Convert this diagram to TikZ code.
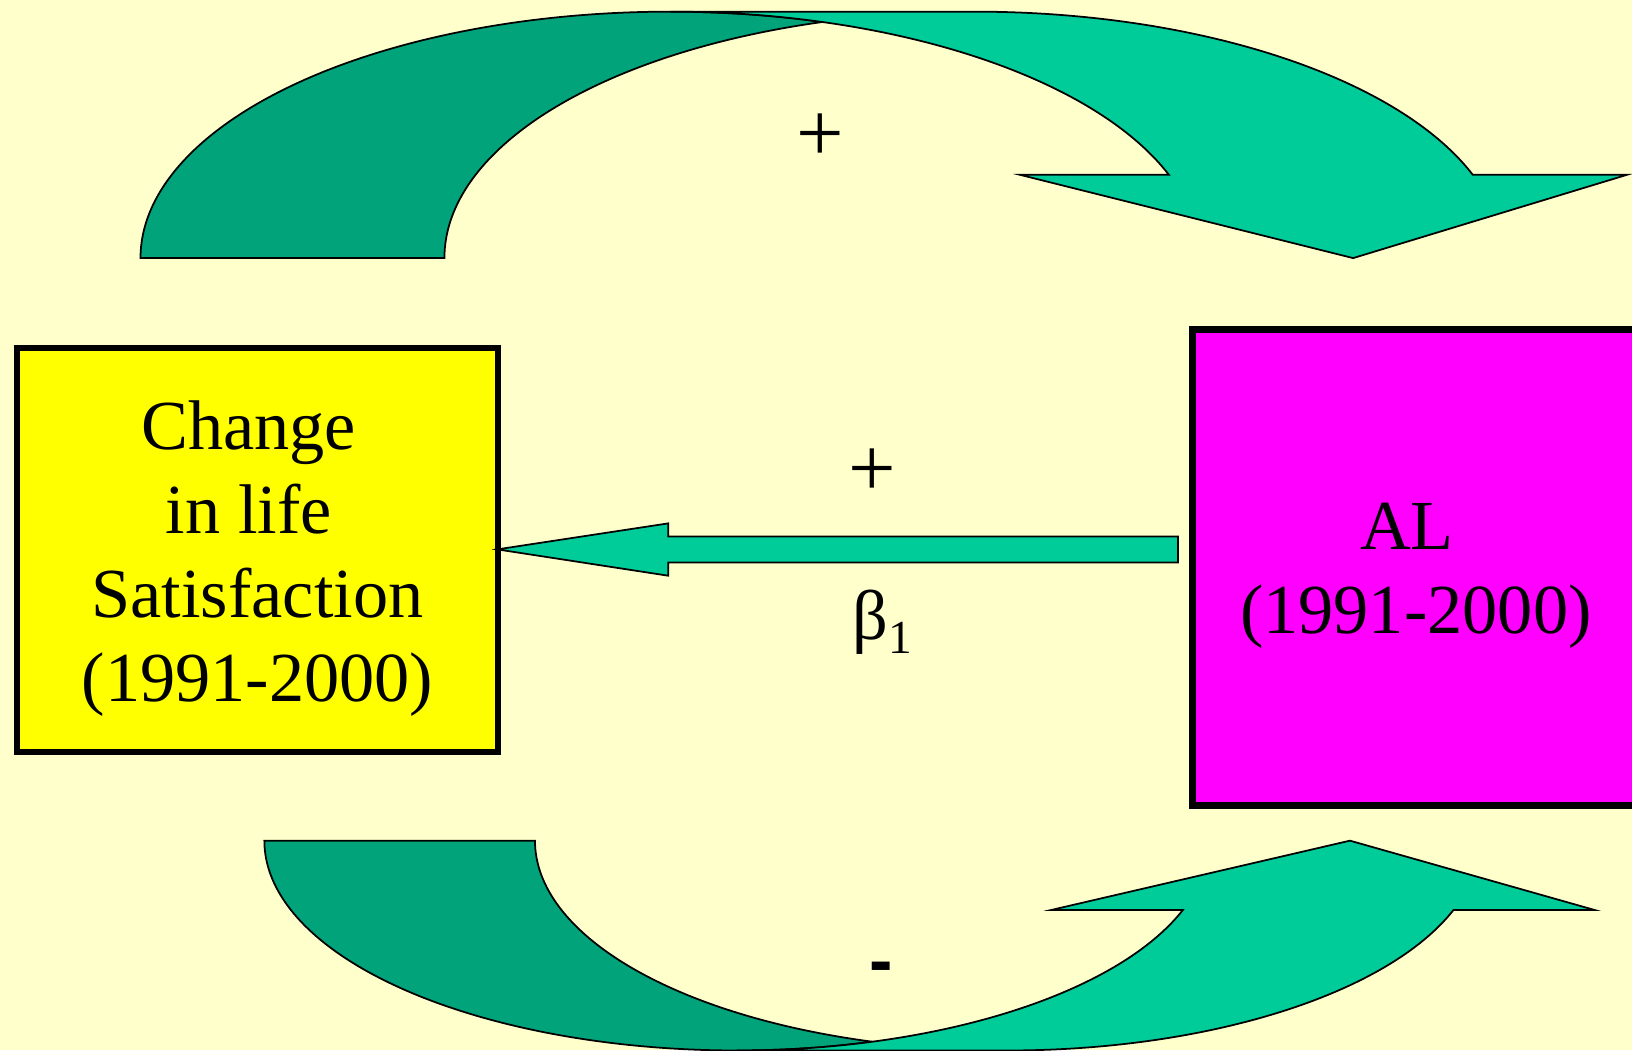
\documentclass[tikz,border=0pt]{standalone}
\usepackage{fontspec}
\setmainfont{Liberation Serif}
\newfontfamily\sansf{Liberation Sans}
\usetikzlibrary{calc,fit}
\definecolor{bgc}{HTML}{FFFFCC}
\definecolor{darkg}{HTML}{00A37A}
\definecolor{lightg}{HTML}{00CC99}
\definecolor{boxyellow}{HTML}{FFFF00}
\definecolor{boxmagenta}{HTML}{FF00FF}
\begin{document}
\begin{tikzpicture}[x=0.0104082cm, y=0.0104082cm,
  outl/.style={draw=black, line width=0.5pt, line join=miter},
  varbox/.style={draw=black, line width=1.9pt, inner sep=0pt},
  boxtext/.style={inner sep=0pt, font=\fontsize{20}{23.9}\selectfont, align=center},
  sign/.style={inner sep=0pt, font=\fontsize{24}{28}\selectfont}]
\useasboundingbox (0,0) rectangle (1568,1009);
\clip (0,0) rectangle (1568,1009);
\fill[bgc] (0,0) rectangle (1568,1009);

% top curved arrow: back band
\path[outl, fill=darkg] (135,761)
  arc[start angle=180, end angle=73.33, x radius=509, y radius=236.8]
  arc[start angle=106.67, end angle=180, x radius=509, y radius=236.8] -- cycle;
% top curved arrow: front band with head
\path[outl, fill=lightg] (1300,761) -- (980,841)
  -- ([shift={(644,761)}]19.75:509 and 236.8)
  arc[start angle=19.75, end angle=90, x radius=509, y radius=236.8]
  -- (936,997.8)
  arc[start angle=90, end angle=19.75, x radius=509, y radius=236.8]
  -- (1563,841) -- cycle;

% bottom curved arrow: back band
\path[outl, fill=darkg] (254,201.3)
  arc[start angle=180, end angle=286.64, x radius=454, y radius=201.6]
  arc[start angle=253.36, end angle=180, x radius=454, y radius=201.6] -- cycle;
% bottom curved arrow: front band with head
\path[outl, fill=lightg] (1297,201.3) -- (1010,134.7)
  -- ([shift={(708,201.3)}]-19.29:454 and 201.6)
  arc[start angle=-19.29, end angle=-90, x radius=454, y radius=201.6]
  -- (968,-0.3)
  arc[start angle=-90, end angle=-19.29, x radius=454, y radius=201.6]
  -- (1532,134.7) -- cycle;

% boxes
\node[varbox, fill=boxyellow, fit={(16.3,286.5) (478.5,674.6)}] (lsat) {};
\node[varbox, fill=boxmagenta, fit={(1146,235.3) (1700,692.2)}] (al) {};

\node[boxtext] (lsattext) at (247.4,472.4) {\mbox{Change\kern5pt}\\\mbox{in life\kern5pt}\\Satisfaction\\(1991-2000)};
\node[boxtext] (altext) at (1360.3,455.9) {\mbox{AL\kern5pt}\\(1991-2000)};

% middle arrow from AL to life satisfaction
\coordinate (tip) at ($(lsat.east)+(-4,0.6)$);
\coordinate (tail) at ($(al.west |- tip)+(-11,0)$);
\draw[outl, fill=lightg] ($(tail)+(0,12.5)$) -- ($(tip)+(164.4,12.5)$) -- ($(tip)+(164.4,25)$)
  -- (tip) -- ($(tip)+(164.4,-25.3)$) -- ($(tip)+(164.4,-12.5)$) -- ($(tail)+(0,-12.5)$) -- cycle;

% signs and labels
\node[sign] (ptop) at (787.9,876.3) {+};
\node[sign] (pmid) at (838.1,554.4) {+};
\node[inner sep=0pt, anchor=base, font=\sansf\bfseries\fontsize{20}{24}\selectfont] (minus) at (846.3,62.8) {-};
\node[inner sep=0pt, anchor=base west] (beta) at (818.5,395) {\fontsize{20}{24}\selectfont β\raisebox{-4.1pt}{\fontsize{13.5}{16}\selectfont 1}};
\end{tikzpicture}
\end{document}
